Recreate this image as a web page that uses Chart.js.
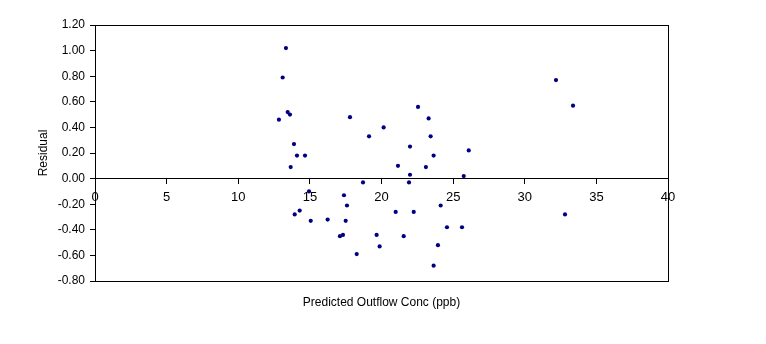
<!DOCTYPE html>
<html>
<head>
<meta charset="utf-8">
<script src="https://cdn.jsdelivr.net/npm/chart.js@4/dist/chart.umd.min.js"></script>
<style>
  html, body { margin: 0; padding: 0; background: #fff; }
  #wrap { width: 766px; height: 344px; }
</style>
</head>
<body>
<div id="wrap"><canvas id="residChart"></canvas></div>
<script>
// predicted outflow concentration (ppb) and residual
const predicted = [
  13.33, 13.10, 13.45, 13.61, 12.84, 17.80, 19.13, 20.15, 13.89, 14.10,
  14.66, 13.66, 21.15, 21.99, 22.55, 23.29, 23.10, 21.99, 18.71, 21.92,
  23.43, 26.09, 23.64, 25.74, 24.13, 20.99, 22.25, 24.57, 25.62, 21.55,
  23.94, 23.64, 14.94, 17.38, 17.59, 14.29, 13.94, 15.06, 16.24, 17.50,
  17.10, 17.31, 19.66, 19.87, 18.27, 32.18, 33.37, 32.81
];
const residual = [
  1.02, 0.79, 0.52, 0.50, 0.46, 0.48, 0.33, 0.40, 0.27, 0.18,
  0.18, 0.09, 0.10, 0.25, 0.56, 0.47, 0.09, 0.03, -0.03, -0.03,
  0.33, 0.22, 0.18, 0.02, -0.21, -0.26, -0.26, -0.38, -0.38, -0.45,
  -0.52, -0.68, -0.10, -0.13, -0.21, -0.25, -0.28, -0.33, -0.32, -0.33,
  -0.45, -0.44, -0.44, -0.53, -0.59, 0.77, 0.57, -0.28
];
const xTicks = [0, 5, 10, 15, 20, 25, 30, 35, 40];
const yTicks = [-0.8, -0.6, -0.4, -0.2, 0, 0.2, 0.4, 0.6, 0.8, 1.0, 1.2];

const font = "'Liberation Sans', Arial, sans-serif";

// box around the plot area
const frame = {
  id: "frame",
  afterDraw(chart) {
    const { ctx, chartArea: a } = chart;
    ctx.save();
    ctx.strokeStyle = "#000";
    ctx.lineWidth = 1;
    ctx.strokeRect(Math.round(a.left) + 0.5, Math.round(a.top) + 0.5,
      Math.round(a.right - a.left), Math.round(a.bottom - a.top));
    ctx.restore();
  },
};

new Chart(document.getElementById("residChart"), {
  type: "scatter",
  data: {
    datasets: [{
      label: "Residual",
      data: predicted.map((x, i) => ({ x: x, y: residual[i] })),
      backgroundColor: "#000080",
      borderColor: "#000080",
      pointRadius: 2.1,
      pointBorderWidth: 0,
    }],
  },
  options: {
    responsive: true,
    maintainAspectRatio: false,
    animation: false,
    layout: { padding: { top: 25, right: 98, left: 0, bottom: 0 } },
    plugins: { legend: { display: false }, tooltip: { enabled: false } },
    scales: {
      x: {
        type: "linear",
        position: { y: 0 },
        min: 0,
        max: 40,
        afterBuildTicks: (s) => { s.ticks = xTicks.map((v) => ({ value: v })); },
        afterFit: (s) => { s.height = 0; },
        grid: { drawOnChartArea: false, tickLength: 5, color: "#000" },
        border: { color: "#000", width: 1 },
        ticks: { color: "#000", font: { family: font, size: 13 }, padding: 6, maxRotation: 0 },
      },
      x2: {
        type: "linear",
        position: "bottom",
        min: 0,
        max: 40,
        afterFit: (s) => { s.height = 63; },
        grid: { display: false },
        border: { display: false },
        ticks: { display: false },
        title: {
          display: true,
          text: "Predicted Outflow Conc (ppb)",
          color: "#000",
          font: { family: font, size: 12 },
          padding: { top: 0, bottom: 34 },
        },
      },
      y: {
        min: -0.8,
        max: 1.2,
        afterBuildTicks: (s) => { s.ticks = yTicks.map((v) => ({ value: v })); },
        afterFit: (s) => { s.width = 95; },
        grid: { drawOnChartArea: false, tickLength: 5, color: "#000" },
        border: { color: "#000", width: 1 },
        ticks: {
          color: "#000",
          font: { family: font, size: 12 },
          padding: 5,
          callback: (v) => Number(v).toFixed(2),
        },
        title: {
          display: true,
          text: "Residual",
          color: "#000",
          font: { family: font, size: 12 },
          padding: { top: 36, bottom: 0 },
        },
      },
    },
  },
  plugins: [frame],
});
</script>
</body>
</html>
